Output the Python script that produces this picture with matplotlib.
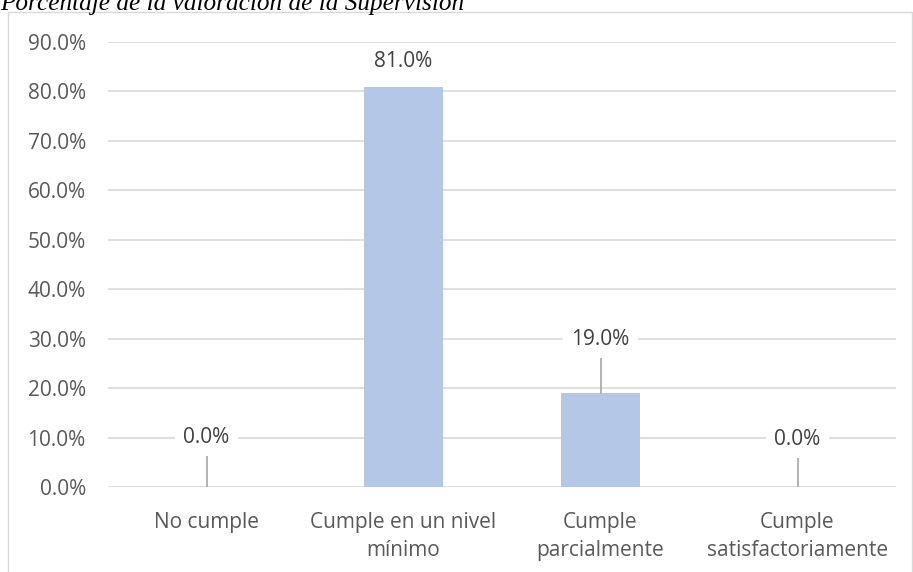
import matplotlib
matplotlib.use("Agg")
import matplotlib.pyplot as plt
from matplotlib.patches import Rectangle

categories = ["No cumple", "Cumple en un nivel\nmínimo", "Cumple\nparcialmente", "Cumple\nsatisfactoriamente"]
values = [0.0, 81.0, 19.0, 0.0]
label_y = [10.1, 86.0, 29.8, 9.6]
yticks = [0, 10, 20, 30, 40, 50, 60, 70, 80, 90]
title = "Porcentaje de la valoración de la Supervisión"

W, H = 913, 572
fig = plt.figure(figsize=(W / 100, H / 100), dpi=100)

# outer chart frame
fig.patches.append(Rectangle((8 / W, -0.01), (912 - 8) / W, 1 - 12 / H + 0.01,
                             transform=fig.transFigure, fill=False,
                             edgecolor="#d9d9d9", linewidth=1.0, zorder=0))

fig.text(0.0, 1 - 10 / H, title, family="Liberation Serif", style="italic",
         fontsize=18.2, color="black", va="baseline", ha="left")

FS = 15
ax = fig.add_axes([108 / W, 1 - 487 / H, (896 - 108) / W, (487 - 42) / H])
x = list(range(len(categories)))
ax.bar(x, values, width=0.4, color="#b4c7e7", zorder=2)
ax.set_xlim(-0.5, len(categories) - 0.5)
ax.set_ylim(0, 90)
ax.set_yticks(yticks)
ax.set_yticklabels([f"{v:.1f}%" for v in yticks])
ax.set_xticks(x)
ax.set_xticklabels(categories, linespacing=1.45)
ax.yaxis.grid(True, color="#d9d9d9", linewidth=1.2, zorder=0)
ax.set_axisbelow(True)
for s in ax.spines.values():
    s.set_visible(False)
ax.tick_params(axis="both", length=0, labelsize=FS, labelcolor="#595959")
ax.tick_params(axis="y", pad=16)
ax.tick_params(axis="x", pad=18)
for t in ax.get_xticklabels() + ax.get_yticklabels():
    t.set_family("Open Sans")

# value labels with leader lines
for xi, v, ly in zip(x, values, label_y):
    ax.text(xi, ly, f"{v:.1f}%", ha="center", va="center", fontsize=FS,
            color="#404040", family="Open Sans", zorder=4,
            bbox=dict(facecolor="white", edgecolor="none", pad=6))
    top = ly - 3.6
    if top - v > 2:
        ax.plot([xi, xi], [top, v], color="#a6a6a6", linewidth=1.2, zorder=3)

fig.savefig("out.png", dpi=100)
